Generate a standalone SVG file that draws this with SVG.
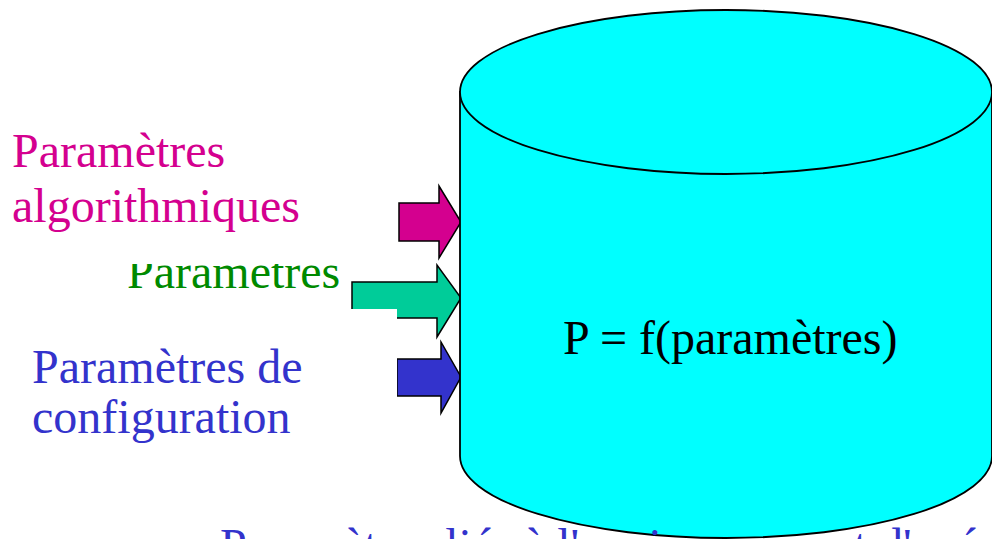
<svg xmlns="http://www.w3.org/2000/svg" width="992" height="539" viewBox="0 0 992 539">
<style>
.t{font-family:"Liberation Serif","Times New Roman",Times,"DejaVu Serif",serif;font-size:48px}
.arr{stroke:#000;stroke-width:1.5;stroke-linejoin:miter}
.cyl{fill:#00FFFF;stroke:#000;stroke-width:1.8}
</style>
<rect width="992" height="539" fill="#fff"/>
<g id="green-label">
<text class="t" x="127" y="288" fill="#008A00">Paramètres</text>
</g>
<g id="connectors">
<polygon class="arr" fill="#D4008F" points="399,203 439,203 439,186 461,222 439,258 439,241 399,241"/>
<polygon class="arr" fill="#00CC99" points="352,282 437,282 437,265 461,298 437,337 437,318 352,318"/>
<polygon class="arr" fill="#3333CC" points="397,359 441,359 441,342 461,377 441,413 441,396 397,396"/>
</g>
<rect x="0" y="110" width="350" height="154" fill="#fff"/>
<rect x="0" y="309" width="397" height="140" fill="#fff"/>
<g id="pink-label" fill="#D4008F">
<text class="t" x="12" y="167">Paramètres</text>
<text class="t" x="12" y="222">algorithmiques</text>
</g>
<g id="blue-label" fill="#3333CC">
<text class="t" x="32" y="383">Paramètres de</text>
<text class="t" x="32" y="433">configuration</text>
</g>
<g id="cylinder">
<path class="cyl" d="M460,92 L460,456 A266,82 0 0 0 992,456 L992,92 Z"/>
<ellipse class="cyl" cx="726" cy="92" rx="266" ry="82"/>
<text class="t" x="563" y="354" fill="#000">P = f(paramètres)</text>
</g>
<g id="bottom-label" fill="#3333CC">
<text class="t" x="220" y="562">Paramètres liés à l'environnement d'exécution</text>
</g>
</svg>
